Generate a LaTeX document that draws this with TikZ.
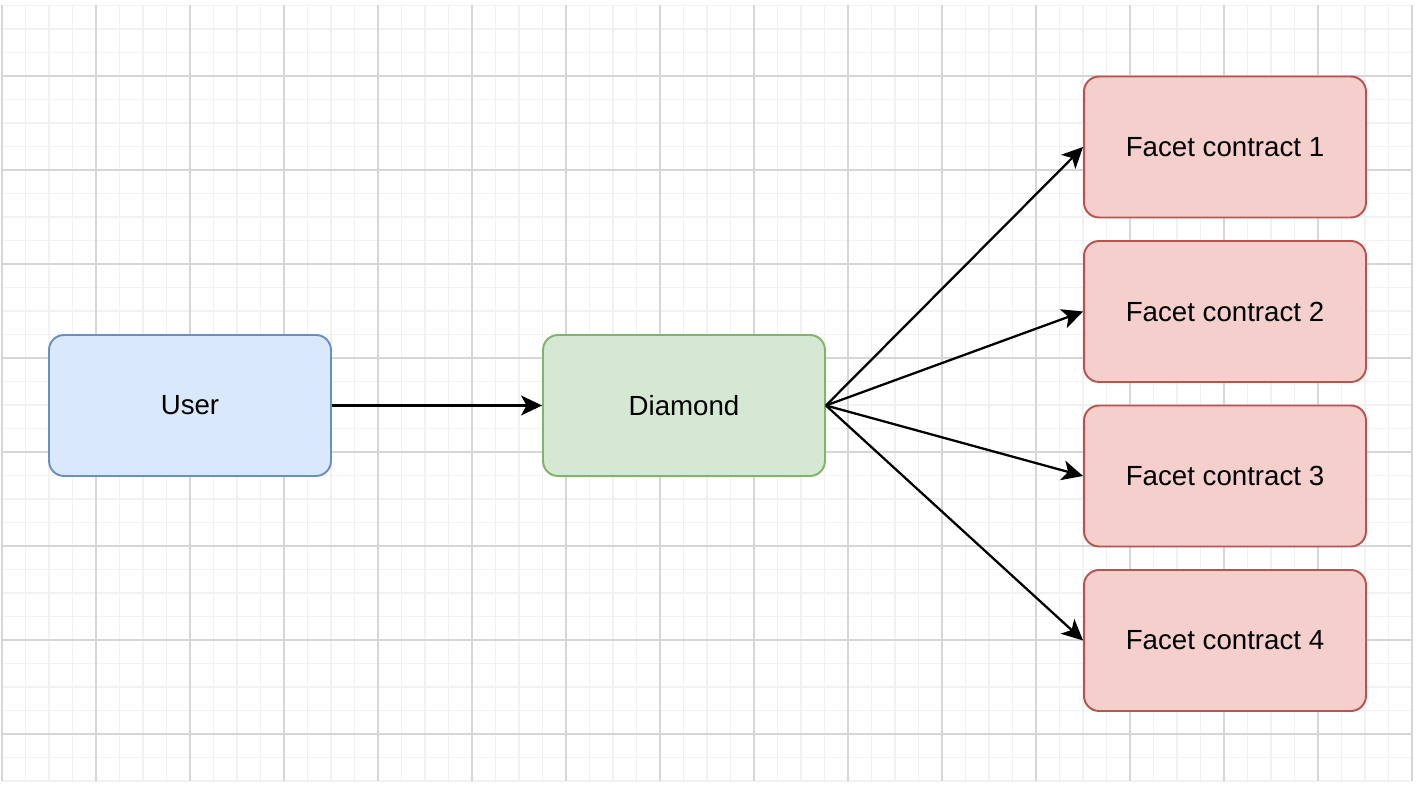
\documentclass[tikz,border=0pt]{standalone}
\usepackage{fontspec}
\setmainfont{Liberation Sans}
\usetikzlibrary{arrows.meta}
\definecolor{userfill}{HTML}{DAE8FC}
\definecolor{userline}{HTML}{6C8EBF}
\definecolor{dmdfill}{HTML}{D5E8D4}
\definecolor{dmdline}{HTML}{82B366}
\definecolor{facetfill}{HTML}{F4CFCC}
\definecolor{facetline}{HTML}{B85450}
\definecolor{minorgrid}{HTML}{F1F1F1}
\definecolor{majorgrid}{HTML}{D6D6D6}
\begin{document}
\begin{tikzpicture}[x=0.02cm,y=-0.02cm,
  box/.style={draw, line width=1.1pt, rounded corners=0.3cm, minimum width=5.64cm,
    minimum height=2.82cm, font=\fontsize{15.75}{18}\selectfont},
  arr/.style={draw, line width=1.3pt, -{Stealth[length=0.42cm,width=0.4cm,inset=0.11cm]}}]
\useasboundingbox[fill=white] (0,0) rectangle (1418,786);
\foreach \i in {0,...,60} \draw[minorgrid, line width=0.6pt] ({2+23.5*\i},5.5) -- ({2+23.5*\i},781);
\foreach \j in {0,...,33} \draw[minorgrid, line width=0.6pt] (2,{5.5+23.5*\j}) -- (1412,{5.5+23.5*\j});
\foreach \i in {0,...,15} \draw[majorgrid, line width=0.6pt] ({2+94*\i},5.5) -- ({2+94*\i},781);
\foreach \j in {0,...,7} \draw[majorgrid, line width=0.6pt] (2,{76+94*\j}) -- (1412,{76+94*\j});

\node[box, fill=userfill, draw=userline] (user) at (190,405.5) {User};
\node[box, fill=dmdfill, draw=dmdline] (diamond) at (684,405.5) {Diamond};
\node[box, fill=facetfill, draw=facetline] (f1) at (1225,147) {Facet contract 1};
\node[box, fill=facetfill, draw=facetline] (f2) at (1225,311.5) {Facet contract 2};
\node[box, fill=facetfill, draw=facetline] (f3) at (1225,476) {Facet contract 3};
\node[box, fill=facetfill, draw=facetline] (f4) at (1225,640.5) {Facet contract 4};

\path[arr] (user) -- (diamond);
\path[arr] (diamond.east) -- (f1.west);
\path[arr] (diamond.east) -- (f2.west);
\path[arr] (diamond.east) -- (f3.west);
\path[arr] (diamond.east) -- (f4.west);
\end{tikzpicture}
\end{document}
